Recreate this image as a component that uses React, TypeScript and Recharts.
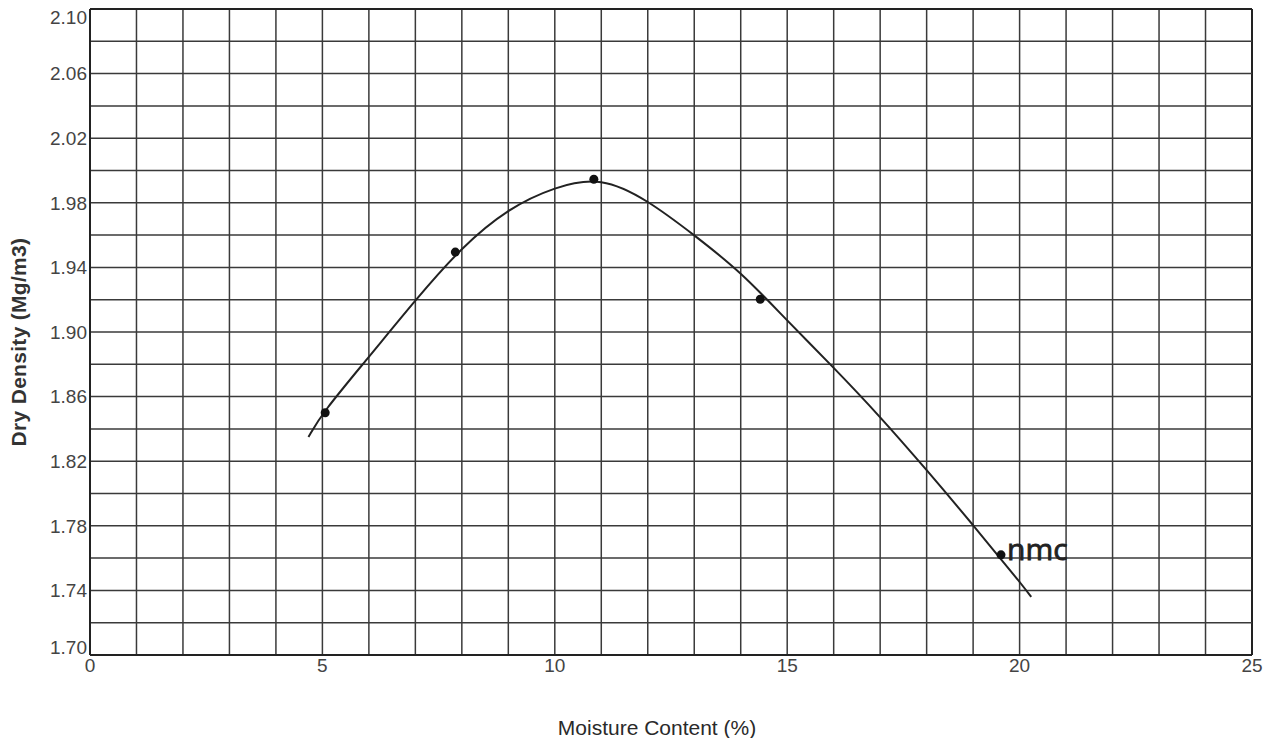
import React from 'react';
import {
  ComposedChart,
  Line,
  Scatter,
  XAxis,
  YAxis,
  ReferenceLine,
  ReferenceDot,
  Label,
} from 'recharts';

// measured points (moisture %, dry density Mg/m3)
const moisture = [5.06, 7.86, 10.84, 14.42, 19.6];
const dryDensity = [1.85, 1.9495, 1.9946, 1.9203, 1.762];

// hand-drawn compaction curve
const curveMoisture = [4.7, 5, 6, 7, 8, 9, 10, 11, 12, 13, 14, 15, 16, 17, 18, 19, 20, 20.25];
const curveDensity = [
  1.835, 1.85, 1.8845, 1.9198, 1.9528, 1.9766, 1.99, 1.9962, 1.9817, 1.96, 1.9373, 1.907,
  1.878, 1.8476, 1.8146, 1.7805, 1.7454, 1.736,
];

const xTicks = [0, 5, 10, 15, 20, 25];
const yTicks = [1.7, 1.74, 1.78, 1.82, 1.86, 1.9, 1.94, 1.98, 2.02, 2.06, 2.1];

// graph paper lines
const xGrid = [1, 2, 3, 4, 5, 6, 7, 8, 9, 10, 11, 12, 13, 14, 15, 16, 17, 18, 19, 20, 21, 22, 23, 24, 25];
const yGrid = [
  1.72, 1.74, 1.76, 1.78, 1.8, 1.82, 1.84, 1.86, 1.88, 1.9, 1.92, 1.94, 1.96, 1.98, 2.0, 2.02,
  2.04, 2.06, 2.08, 2.1,
];

const points = moisture.map((m, i) => ({ x: m, y: dryDensity[i] }));
const curve = curveMoisture.map((m, i) => ({ x: m, y: curveDensity[i] }));

const GRID = '#3a3a3a';
const FONT = '"Liberation Sans", Arial, sans-serif';

const YTick = (props: any) => {
  const { x, y, payload } = props;
  // Excel nudges the end labels inwards
  let shift = 0;
  if (payload.value <= 1.7) shift = -8;
  if (payload.value >= 2.1) shift = 8;
  return (
    <text x={x} y={y + shift} dy="0.355em" textAnchor="end" fill="#444" fontSize={19} fontFamily={FONT}>
      {Number(payload.value).toFixed(2)}
    </text>
  );
};

const XTick = (props: any) => {
  const { x, y, payload } = props;
  return (
    <text x={x} y={y} dy="0.71em" textAnchor="middle" fill="#444" fontSize={19} fontFamily={FONT}>
      {payload.value}
    </text>
  );
};

export default function App() {
  return (
    <div style={{ position: 'absolute', left: 0, top: 0, background: '#fff' }}>
      <ComposedChart width={1272} height={738} margin={{ top: 9, right: 20, bottom: 0, left: 0 }}>
        <XAxis
          dataKey="x"
          type="number"
          domain={[0, 25]}
          ticks={xTicks}
          interval={0}
          allowDataOverflow
          height={83}
          tickLine={false}
          tickSize={0}
          tickMargin={4}
          tick={<XTick />}
          axisLine={{ stroke: '#222', strokeWidth: 2 }}
        >
          <Label
            content={({ viewBox }: any) => (
              <text
                x={viewBox.x + viewBox.width / 2 - 14}
                y={viewBox.y + viewBox.height - 3}
                textAnchor="middle"
                fill="#2a2a2a"
                fontSize={21}
                fontFamily={FONT}
              >
                Moisture Content (%)
              </text>
            )}
          />
        </XAxis>
        <YAxis
          dataKey="y"
          type="number"
          domain={[1.7, 2.1]}
          ticks={yTicks}
          interval={0}
          allowDataOverflow
          width={90}
          tickLine={false}
          tickSize={0}
          tickMargin={3}
          tick={<YTick />}
          axisLine={{ stroke: '#222', strokeWidth: 2 }}
        >
          <Label
            content={() => (
              <text
                x={18}
                y={342}
                transform="rotate(-90 18 342)"
                textAnchor="middle"
                dominantBaseline="central"
                fill="#333"
                fontSize={21}
                fontWeight="bold"
                fontFamily={FONT}
                letterSpacing={0.3}
              >
                Dry Density (Mg/m3)
              </text>
            )}
          />
        </YAxis>

        {xGrid.map((v) => (
          <ReferenceLine key={'gx' + v} x={v} stroke={v === 25 ? '#222' : GRID} strokeWidth={v === 25 ? 2 : 1.5} />
        ))}
        {yGrid.map((v) => (
          <ReferenceLine key={'gy' + v} y={v} stroke={v === 2.1 ? '#222' : GRID} strokeWidth={v === 2.1 ? 2 : 1.5} />
        ))}

        <Line
          data={curve}
          dataKey="y"
          type="basis"
          stroke="#222"
          strokeWidth={2}
          dot={false}
          activeDot={false}
          isAnimationActive={false}
        />
        <Scatter
          data={points}
          dataKey="y"
          fill="#111"
          isAnimationActive={false}
          shape={(p: any) => <circle cx={p.cx} cy={p.cy} r={4.5} fill="#111" />}
        />

        <ReferenceDot
          x={moisture[4]}
          y={dryDensity[4]}
          r={0}
          stroke="none"
          label={
            <Label
              content={({ viewBox }: any) => (
                <text
                  x={viewBox.x + viewBox.width / 2 + 6}
                  y={viewBox.y + viewBox.height / 2 + 5}
                  fill="#222"
                  stroke="#222"
                  strokeWidth={0.8}
                  fontSize={30}
                  fontWeight={400}
                  fontFamily='"Open Sans", sans-serif'
                >
                  nmc
                </text>
              )}
            />
          }
        />
      </ComposedChart>
    </div>
  );
}
